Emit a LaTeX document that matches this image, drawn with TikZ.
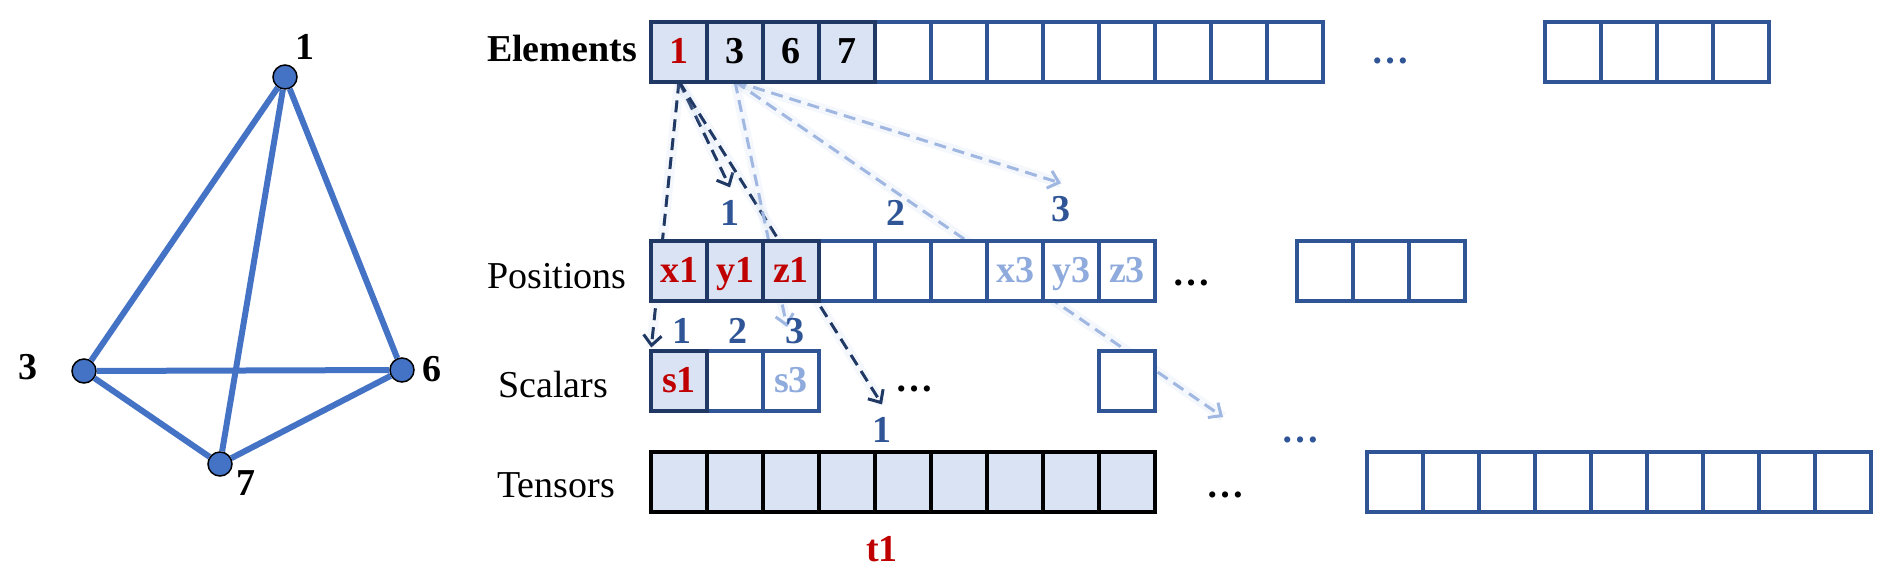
\documentclass[tikz,border=0pt]{standalone}
\usepackage{fontspec}
\setmainfont{Liberation Serif}
\usetikzlibrary{arrows.meta,backgrounds}

\definecolor{arrblue}{HTML}{2F5597}
\definecolor{navy}{HTML}{1F3864}
\definecolor{cellfill}{HTML}{DAE3F3}
\definecolor{hred}{HTML}{C00000}
\definecolor{faded}{HTML}{8FAADC}
\definecolor{gblue}{HTML}{4472C4}
\definecolor{glow}{HTML}{B4C7E7}

\tikzset{
  cell/.style={draw=arrblue, fill=white, line width=2pt, minimum width=28pt, minimum height=30pt,
    inner sep=0pt, outer sep=0pt, text height=13pt, text depth=1pt, font=\bfseries},
  fcell/.style={cell, draw=navy, fill=cellfill},
  tcell/.style={cell, draw=black, fill=cellfill},
  vertex/.style={circle, draw=black, fill=gblue, line width=0.75pt, minimum size=12pt, inner sep=0pt},
  edge/.style={gblue, line width=3pt},
  idx/.style={text=arrblue, font=\bfseries},
  dots/.style={anchor=base, font=\bfseries},
  link/.style={-{Straight Barb[length=5pt,width=9pt]}, line width=1.5pt, dash pattern=on 6pt off 3.5pt,
    preaction={draw=glow, solid, -, line width=5pt, opacity=0.15}},
  darrow/.style={link, navy},
  larrow/.style={link, faded!85},
}

\begin{document}
\fontsize{19}{23}\selectfont
\begin{tikzpicture}[x=0.5pt, y=-0.5pt]
\useasboundingbox (0,0) rectangle (1892,580);

% graph
\node[vertex] (v1) at (285,77) {};
\node[vertex] (v3) at (84,371) {};
\node[vertex] (v6) at (402,370) {};
\node[vertex] (v7) at (220,464) {};
\draw[edge] (v1) -- (v3) (v1) -- (v7) (v1) -- (v6) (v3) -- (v6) (v3) -- (v7) (v7) -- (v6);
\node[font=\bfseries] (n1) at (305,47) {1};
\node[font=\bfseries] (n3) at (28,367) {3};
\node[font=\bfseries] (n6) at (432,369) {6};
\node[font=\bfseries] (n7) at (246,483) {7};

% row names
\node[font=\bfseries] (lelem) at (562,48) {Elements};
\node (lpos) at (557,276) {Positions};
\node (lsca) at (553,384) {Scalars};
\node (lten) at (556,485) {Tensors};

% elements
\foreach \i in {5,...,12} \node[cell] (e\i) at ({623+56*\i},51.5) {};
\node[fcell, text=hred] (e1) at (679,51.5) {1};
\foreach \i/\v in {2/3,3/6,4/7} \node[fcell] (e\i) at ({623+56*\i},51.5) {\v};
\foreach \i in {1,...,4} \node[cell] (f\i) at ({1517+56*\i},51.5) {};
\node[dots, text=arrblue] (d1) at (1390,63.5) {…};

% positions
\foreach \i in {4,5,6} \node[cell] (p\i) at ({623+56*\i},270.5) {};
\foreach \i/\v in {7/x3,8/y3,9/z3} \node[cell, text=faded] (p\i) at ({623+56*\i},270.5) {\v};
\foreach \i/\v in {1/x1,2/y1,3/z1} \node[fcell, text=hred] (p\i) at ({623+56*\i},270.5) {\v};
\foreach \i in {1,2,3} \node[cell] (q\i) at ({1269+56*\i},270.5) {};
\node[dots] (d2) at (1191,285.5) {…};
\node[idx] (pi1) at (730,213) {1};
\node[idx] (pi2) at (896,213) {2};
\node[idx] (pi3) at (1061,209) {3};

% scalars
\node[cell] (s2) at (735,380.5) {};
\node[cell, text=faded] (s3) at (791,380.5) {s3};
\node[fcell, text=hred] (s1) at (679,380.5) {s1};
\node[cell] (s9) at (1127,380.5) {};
\node[dots] (d3) at (914.5,391.5) {…};
\node[idx] (si1) at (682,331) {1};
\node[idx] (si2) at (738,331) {2};
\node[idx] (si3) at (795,331) {3};

% tensors
\foreach \i in {1,...,9} \node[tcell] (t\i) at ({623+56*\i},482) {};
\foreach \i in {1,...,9} \node[cell] (u\i) at ({1339+56*\i},482) {};
\node[dots, text=arrblue] (d4) at (1300,442.5) {…};
\node[dots] (d5) at (1225,497.5) {…};
\node[idx] (ti1) at (882,430) {1};
\node[font=\bfseries, text=hred] (tname) at (882,549) {t1};

% links
\begin{scope}[on background layer]
\coordinate (s3top) at (787,327);
\coordinate (far3) at (1223,417);
\draw[darrow] (e1.south) -- (pi1.north);
\draw[darrow, shorten >=1.5pt] (e1.south) -- (s1.north west);
\draw[darrow] (e1.south) -- (ti1.north);
\draw[larrow] (e2.south) -- (pi3.north);
\draw[larrow] (e2.south) -- (s3top);
\draw[larrow] (e2.south) -- (far3);
\end{scope}
\end{tikzpicture}
\end{document}
